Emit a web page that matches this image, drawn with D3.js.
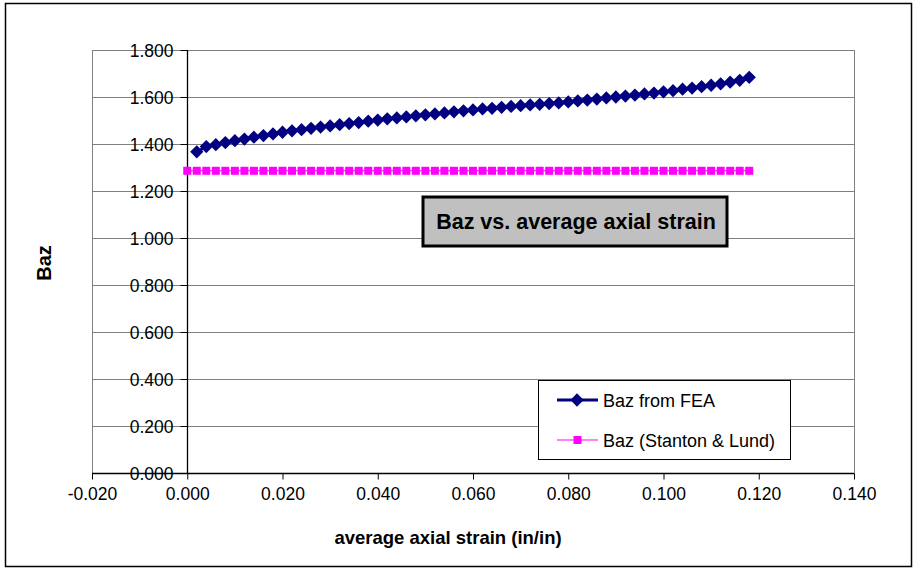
<!DOCTYPE html>
<html>
<head>
<meta charset="utf-8">
<script src="https://cdn.jsdelivr.net/npm/d3@7/dist/d3.min.js"></script>
<style>
  body { margin: 0; background: #fff; }
  svg { display: block; font-family: Arial, "Liberation Sans", sans-serif; }
</style>
</head>
<body>
<div id="chart"></div>
<script>
// chart data
var strain_fea = [0.002,0.004,0.006,0.008,0.010,0.012,0.014,0.016,0.018,0.020,
    0.022,0.024,0.026,0.028,0.030,0.032,0.034,0.036,0.038,0.040,
    0.042,0.044,0.046,0.048,0.050,0.052,0.054,0.056,0.058,0.060,
    0.062,0.064,0.066,0.068,0.070,0.072,0.074,0.076,0.078,0.080,
    0.082,0.084,0.086,0.088,0.090,0.092,0.094,0.096,0.098,0.100,
    0.102,0.104,0.106,0.108,0.110,0.112,0.114,0.116,0.118];
var baz_fea = [1.367,1.389,1.397,1.406,1.414,1.421,1.429,1.436,1.443,1.450,
    1.456,1.461,1.467,1.472,1.477,1.482,1.487,1.491,1.497,1.502,
    1.507,1.511,1.515,1.520,1.524,1.528,1.532,1.537,1.541,1.545,
    1.549,1.552,1.556,1.560,1.563,1.566,1.569,1.572,1.575,1.579,
    1.583,1.587,1.591,1.596,1.600,1.604,1.608,1.613,1.617,1.622,
    1.627,1.633,1.638,1.644,1.650,1.656,1.663,1.671,1.684];
var strain_sl = [0.000,0.002,0.004,0.006,0.008,0.010,0.012,0.014,0.016,0.018,0.020,
    0.022,0.024,0.026,0.028,0.030,0.032,0.034,0.036,0.038,0.040,
    0.042,0.044,0.046,0.048,0.050,0.052,0.054,0.056,0.058,0.060,
    0.062,0.064,0.066,0.068,0.070,0.072,0.074,0.076,0.078,0.080,
    0.082,0.084,0.086,0.088,0.090,0.092,0.094,0.096,0.098,0.100,
    0.102,0.104,0.106,0.108,0.110,0.112,0.114,0.116,0.118];
var baz_sl = [1.286,1.286,1.286,1.286,1.286,1.286,1.286,1.286,1.286,1.286,1.286,
    1.286,1.286,1.286,1.286,1.286,1.286,1.286,1.286,1.286,1.286,
    1.286,1.286,1.286,1.286,1.286,1.286,1.286,1.286,1.286,1.286,
    1.286,1.286,1.286,1.286,1.286,1.286,1.286,1.286,1.286,1.286,
    1.286,1.286,1.286,1.286,1.286,1.286,1.286,1.286,1.286,1.286,
    1.286,1.286,1.286,1.286,1.286,1.286,1.286,1.286,1.286];
var x_ticks = [-0.02,0,0.02,0.04,0.06,0.08,0.10,0.12,0.14];
var y_ticks = [0,0.2,0.4,0.6,0.8,1.0,1.2,1.4,1.6,1.8];
var series_names = ["Baz from FEA", "Baz (Stanton & Lund)"];
var chart_title = "Baz vs. average axial strain";
var x_title = "average axial strain (in/in)";
var y_title = "Baz";

// layout
var width = 917;
var height = 571;
var plot = {left: 92, right: 854, top: 50, bottom: 473};
var fea_color = "#000080";
var sl_color = "#ff00ff";
var grid_color = "#808080";
var font = "Arial, 'Liberation Sans', sans-serif";

var svg = d3.select("#chart").append("svg")
    .attr("width", width)
    .attr("height", height);

// outer chart border
svg.append("rect")
    .attr("x", 5.5).attr("y", 3.5)
    .attr("width", 906).attr("height", 563)
    .attr("fill", "#fff")
    .attr("stroke", "#000")
    .attr("stroke-width", 1.5);

var x = d3.scaleLinear().domain([-0.02, 0.14]).range([plot.left, plot.right]);
var y = d3.scaleLinear().domain([0, 1.8]).range([plot.bottom, plot.top]);

// gridlines
svg.append("g").selectAll("line")
    .data(y_ticks)
    .enter().append("line")
    .attr("x1", plot.left).attr("x2", plot.right)
    .attr("y1", function(d) { return Math.round(y(d)) + 0.5; })
    .attr("y2", function(d) { return Math.round(y(d)) + 0.5; })
    .attr("stroke", grid_color)
    .attr("stroke-width", 1);

// plot area border
svg.append("rect")
    .attr("x", plot.left + 0.5).attr("y", plot.top + 0.5)
    .attr("width", plot.right - plot.left).attr("height", plot.bottom - plot.top)
    .attr("fill", "none")
    .attr("stroke", grid_color);

// tick labels use a plain hyphen for negatives
var fmt = function(d) { return d3.format(".3f")(d).replace("\u2212", "-"); };

// x axis sits at y = 0
var xAxis = d3.axisBottom(x)
    .tickValues(x_ticks)
    .tickSize(6)
    .tickPadding(8)
    .tickFormat(fmt);
var gx = svg.append("g")
    .attr("transform", "translate(0," + (Math.round(y(0)) + 0.5) + ")")
    .call(xAxis);

// y axis sits at x = 0
var yAxis = d3.axisLeft(y)
    .tickValues(y_ticks)
    .tickSize(7)
    .tickPadding(7)
    .tickFormat(fmt);
var gy = svg.append("g")
    .attr("transform", "translate(" + (Math.round(x(0)) + 0.5) + ",0)")
    .call(yAxis);

[gx, gy].forEach(function(g) {
    g.select(".domain").attr("stroke", "#000").attr("stroke-width", 1.3);
    g.selectAll(".tick line").attr("stroke", "#000");
    g.selectAll(".tick text")
        .attr("fill", "#000")
        .style("font-size", "17.5px")
        .style("font-family", font);
});
gx.select(".domain").attr("d", "M" + plot.left + ",0H" + plot.right);
gy.select(".domain").attr("d", "M0," + plot.top + "V" + plot.bottom);
gy.selectAll(".tick text").attr("dy", "0.36em");

// series: Stanton & Lund
var line = d3.line()
    .x(function(d) { return x(d[0]); })
    .y(function(d) { return y(d[1]); });

var sl_data = d3.zip(strain_sl, baz_sl);
svg.append("path")
    .datum(sl_data)
    .attr("d", line)
    .attr("fill", "none")
    .attr("stroke", sl_color)
    .attr("stroke-width", 1);
svg.append("g").selectAll("rect")
    .data(sl_data)
    .enter().append("rect")
    .attr("x", function(d) { return x(d[0]) - 4; })
    .attr("y", function(d) { return y(d[1]) - 4; })
    .attr("width", 8).attr("height", 8)
    .attr("fill", sl_color);

// series: FEA
var fea_data = d3.zip(strain_fea, baz_fea);
var diamond = d3.symbol().type(d3.symbolDiamond2).size(112);
svg.append("path")
    .datum(fea_data)
    .attr("d", line)
    .attr("fill", "none")
    .attr("stroke", fea_color)
    .attr("stroke-width", 3);
svg.append("g").selectAll("path")
    .data(fea_data)
    .enter().append("path")
    .attr("d", diamond)
    .attr("transform", function(d) { return "translate(" + x(d[0]) + "," + y(d[1]) + ")"; })
    .attr("fill", fea_color);

// chart title box
svg.append("rect")
    .attr("x", 423).attr("y", 197)
    .attr("width", 304).attr("height", 49)
    .attr("fill", "#c0c0c0")
    .attr("stroke", "#000")
    .attr("stroke-width", 3);
svg.append("text")
    .attr("x", 576).attr("y", 229)
    .attr("text-anchor", "middle")
    .style("font-size", "21.5px")
    .style("font-weight", "bold")
    .text(chart_title);

// axis titles
svg.append("text")
    .attr("x", 448).attr("y", 544)
    .attr("text-anchor", "middle")
    .style("font-size", "18.5px")
    .style("font-weight", "bold")
    .text(x_title);
svg.append("text")
    .attr("transform", "translate(51,263) rotate(-90)")
    .attr("text-anchor", "middle")
    .style("font-size", "20px")
    .style("font-weight", "bold")
    .text(y_title);

// legend
var legend = svg.append("g");
legend.append("rect")
    .attr("x", 538.5).attr("y", 380.5)
    .attr("width", 252).attr("height", 79)
    .attr("fill", "#fff")
    .attr("stroke", "#000");
var leg_y = [400, 440];
legend.append("line")
    .attr("x1", 557).attr("x2", 598)
    .attr("y1", leg_y[0]).attr("y2", leg_y[0])
    .attr("stroke", fea_color).attr("stroke-width", 3);
legend.append("path")
    .attr("d", diamond)
    .attr("transform", "translate(577," + leg_y[0] + ")")
    .attr("fill", fea_color);
legend.append("line")
    .attr("x1", 557).attr("x2", 598)
    .attr("y1", leg_y[1]).attr("y2", leg_y[1])
    .attr("stroke", sl_color).attr("stroke-width", 1);
legend.append("rect")
    .attr("x", 573.5).attr("y", leg_y[1] - 4)
    .attr("width", 8).attr("height", 8)
    .attr("fill", sl_color);
legend.selectAll("text")
    .data(series_names)
    .enter().append("text")
    .attr("x", 603)
    .attr("y", function(d, i) { return leg_y[i] + 6.5; })
    .style("font-size", "18px")
    .text(function(d) { return d; });
</script>
</body>
</html>
